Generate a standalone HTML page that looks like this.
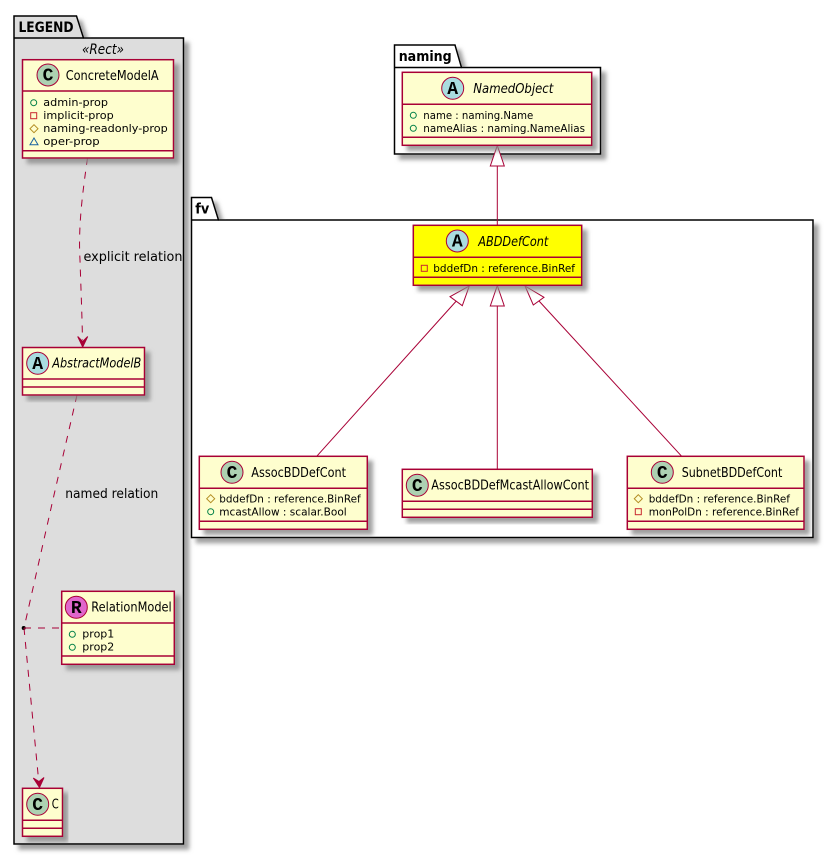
<!DOCTYPE html>
<html><head><meta charset="utf-8"><title>Diagram</title>
<style>
html,body{margin:0;padding:0;background:#fff;width:834px;height:855px;overflow:hidden}
svg{display:block}
text{font-family:"DejaVu Sans","Liberation Sans",sans-serif;fill:#000}
.t{font-size:13.5px}
.i{font-size:13.5px;font-style:italic}
.a{font-size:11px}
.p{font-size:14.5px;font-weight:bold}
.l{font-size:13px}
.g{font-family:"Liberation Mono",monospace;font-size:18px;font-weight:bold;text-anchor:middle}
.c{fill:#FEFECE;stroke:#A80036;stroke-width:1.5}
.y{fill:#FFFF00;stroke:#A80036;stroke-width:1.5}
.d{stroke:#A80036;stroke-width:1.5;fill:none}
.n{stroke:#A80036;stroke-width:1;fill:none}
.k{stroke:#A80036;stroke-width:1;fill:none;stroke-dasharray:7,7}
.o{stroke:#000;stroke-width:1.5}
.pub{fill:none;stroke:#038048;stroke-width:1}
.pri{fill:none;stroke:#C82930;stroke-width:1}
.pro{fill:none;stroke:#B38D22;stroke-width:1}
.pkg{fill:none;stroke:#1963A0;stroke-width:1}
.ci{stroke:#A80036;stroke-width:1}
</style></head><body>
<svg width="834" height="855" viewBox="0 0 834 855" xmlns="http://www.w3.org/2000/svg">
<defs><filter id="s" x="-10%" y="-10%" width="125%" height="125%"><feGaussianBlur in="SourceAlpha" stdDeviation="2"/><feOffset dx="5" dy="5"/><feColorMatrix type="matrix" values="0 0 0 0 .25 0 0 0 0 .25 0 0 0 0 .25 0 0 0 .8 0"/><feMerge><feMergeNode/><feMergeNode in="SourceGraphic"/></feMerge></filter></defs>

<!-- LEGEND package -->
<path class="o" filter="url(#s)" fill="#DDDDDD" d="M14 16H76.5L83.5 38H183.5V844H14Z"/>
<line class="o" x1="14" y1="38" x2="83.5" y2="38"/>
<text class="p" x="18.5" y="32" textLength="55" lengthAdjust="spacingAndGlyphs">LEGEND</text>
<text x="82" y="54" font-size="14" font-style="italic" textLength="42" lengthAdjust="spacingAndGlyphs">«Rect»</text>

<!-- naming package -->
<path class="o" filter="url(#s)" fill="#fff" d="M394.5 45H455L461.5 67.5H600.5V154H394.5Z"/>
<line class="o" x1="394.5" y1="67.5" x2="461.5" y2="67.5"/>
<text class="p" x="398.7" y="61" textLength="53" lengthAdjust="spacingAndGlyphs">naming</text>

<!-- fv package -->
<path class="o" filter="url(#s)" fill="#fff" d="M191.5 197.5H211.5L218.5 220H813V537.5H191.5Z"/>
<line class="o" x1="191.5" y1="220" x2="218.5" y2="220"/>
<text class="p" x="195.3" y="213.3" textLength="14" lengthAdjust="spacingAndGlyphs">fv</text>

<!-- connectors -->
<path class="k" d="M87.5 158C83 190 78 225 80 260C81 290 82 315 82.5 340"/>
<path d="M82.7 347L77.7 336.5L82.7 341.5L87.7 336.5Z" fill="#A80036" stroke="#A80036"/>
<text class="l" x="83.5" y="261" textLength="99" lengthAdjust="spacingAndGlyphs">explicit relation</text>

<path class="k" d="M77 395L54 495L24 628"/>
<text class="l" x="65.3" y="498" textLength="93" lengthAdjust="spacingAndGlyphs">named relation</text>
<circle cx="23.7" cy="628" r="2" fill="#000"/>
<path class="k" d="M24 628H61.5"/>
<path class="k" d="M24 628L38.6 780"/>
<path d="M39.5 787.5L33.3 778L39 781.5L44 777.5Z" fill="#A80036" stroke="#A80036"/>

<path class="n" d="M497.3 166V225.3"/>
<path class="n" style="fill:#fff" d="M497.3 145.5L504.3 166H490.3Z"/>
<path class="n" d="M497.3 306V469.3"/>
<path class="n" style="fill:#fff" d="M497.3 285.5L504.3 306H490.3Z"/>
<path class="n" d="M456.3 301L316.7 456.3"/>
<path class="n" style="fill:#fff" d="M469.3 286L462.3 305.7L450 296.7Z"/>
<path class="n" d="M539 301L681.7 456.3"/>
<path class="n" style="fill:#fff" d="M525 286L544 297.3L533.3 305Z"/>

<!-- ConcreteModelA -->
<rect class="c" filter="url(#s)" x="22.5" y="59.7" width="151" height="98.3"/>
<path class="d" d="M22.5 91H173.5M22.5 150.7H173.5"/>
<circle class="ci" cx="48" cy="75" r="11" fill="#ADD1B2"/><text class="g" x="48" y="80.5">C</text>
<text class="t" x="65.7" y="80" textLength="93" lengthAdjust="spacingAndGlyphs">ConcreteModelA</text>
<circle class="pub" cx="33.7" cy="102.7" r="3"/>
<rect class="pri" x="30.7" y="112.7" width="6" height="6"/>
<path class="pro" d="M34 124.7L38 128.7L34 132.7L30 128.7Z"/>
<path class="pkg" d="M34 138L38 144.7H30Z"/>
<text class="a" x="43.3" y="106" textLength="64.7" lengthAdjust="spacingAndGlyphs">admin-prop</text>
<text class="a" x="43.3" y="119" textLength="70.4" lengthAdjust="spacingAndGlyphs">implicit-prop</text>
<text class="a" x="43.3" y="132" textLength="124.4" lengthAdjust="spacingAndGlyphs">naming-readonly-prop</text>
<text class="a" x="43.3" y="145" textLength="56.4" lengthAdjust="spacingAndGlyphs">oper-prop</text>

<!-- AbstractModelB -->
<rect class="c" filter="url(#s)" x="22.5" y="347.5" width="122" height="47.5"/>
<path class="d" d="M22.5 379H144.5M22.5 387H144.5"/>
<circle class="ci" cx="37.7" cy="363.3" r="11" fill="#A9DCDF"/><text class="g" x="37.7" y="368.8">A</text>
<text class="i" x="52.3" y="367.3" textLength="89" lengthAdjust="spacingAndGlyphs">AbstractModelB</text>

<!-- RelationModel -->
<rect class="c" filter="url(#s)" x="61.7" y="591.3" width="112.6" height="73"/>
<path class="d" d="M61.7 623H174.3M61.7 656H174.3"/>
<circle class="ci" cx="76.3" cy="607.3" r="11" fill="#E066CC"/><text class="g" x="76.3" y="612.8">R</text>
<text class="t" x="91.3" y="611.7" textLength="80.4" lengthAdjust="spacingAndGlyphs">RelationModel</text>
<circle class="pub" cx="72.3" cy="634.3" r="3"/><circle class="pub" cx="72.3" cy="647.3" r="3"/>
<text class="a" x="82.3" y="637.5" textLength="32" lengthAdjust="spacingAndGlyphs">prop1</text>
<text class="a" x="82.3" y="650.5" textLength="32" lengthAdjust="spacingAndGlyphs">prop2</text>

<!-- C -->
<rect class="c" filter="url(#s)" x="22.5" y="788.3" width="40" height="48"/>
<path class="d" d="M22.5 820.3H62.5M22.5 828.3H62.5"/>
<circle class="ci" cx="37.7" cy="804.3" r="11" fill="#ADD1B2"/><text class="g" x="37.7" y="809.8">C</text>
<text class="t" x="51.7" y="808.7" textLength="7" lengthAdjust="spacingAndGlyphs">C</text>

<!-- NamedObject -->
<rect class="c" filter="url(#s)" x="402.3" y="72.3" width="189.4" height="73"/>
<path class="d" d="M402.3 104.3H591.7M402.3 137.3H591.7"/>
<circle class="ci" cx="452.7" cy="88.3" r="11" fill="#A9DCDF"/><text class="g" x="452.7" y="93.8">A</text>
<text class="i" x="473.3" y="93" textLength="80" lengthAdjust="spacingAndGlyphs">NamedObject</text>
<circle class="pub" cx="413.3" cy="115.3" r="3"/><circle class="pub" cx="413.3" cy="128.3" r="3"/>
<text class="a" x="423.3" y="119" textLength="110" lengthAdjust="spacingAndGlyphs">name : naming.Name</text>
<text class="a" x="423.3" y="132" textLength="161.7" lengthAdjust="spacingAndGlyphs">nameAlias : naming.NameAlias</text>

<!-- ABDDefCont -->
<rect class="y" filter="url(#s)" x="413.3" y="225.3" width="168.4" height="60"/>
<path class="d" d="M413.3 257.3H581.7M413.3 277.3H581.7"/>
<circle class="ci" cx="457.3" cy="241" r="11" fill="#A9DCDF"/><text class="g" x="457.3" y="246.5">A</text>
<text class="i" x="478.3" y="246" textLength="70" lengthAdjust="spacingAndGlyphs">ABDDefCont</text>
<rect class="pri" x="421.3" y="265.3" width="6" height="6"/>
<text class="a" x="433.3" y="272" textLength="141.7" lengthAdjust="spacingAndGlyphs">bddefDn : reference.BinRef</text>

<!-- AssocBDDefCont -->
<rect class="c" filter="url(#s)" x="199.3" y="456.3" width="168" height="73"/>
<path class="d" d="M199.3 488.3H367.3M199.3 521.3H367.3"/>
<circle class="ci" cx="232" cy="472.3" r="11" fill="#ADD1B2"/><text class="g" x="232" y="477.8">C</text>
<text class="t" x="251.3" y="477" textLength="94.7" lengthAdjust="spacingAndGlyphs">AssocBDDefCont</text>
<path class="pro" d="M210.7 494.7L214.7 498.7L210.7 502.7L206.7 498.7Z"/>
<circle class="pub" cx="210.7" cy="511.7" r="3"/>
<text class="a" x="219.3" y="502.7" textLength="141.4" lengthAdjust="spacingAndGlyphs">bddefDn : reference.BinRef</text>
<text class="a" x="219.3" y="515.7" textLength="127.4" lengthAdjust="spacingAndGlyphs">mcastAllow : scalar.Bool</text>

<!-- AssocBDDefMcastAllowCont -->
<rect class="c" filter="url(#s)" x="402.3" y="469.3" width="190" height="48"/>
<path class="d" d="M402.3 501.3H592.3M402.3 509.3H592.3"/>
<circle class="ci" cx="417.3" cy="485.3" r="11" fill="#ADD1B2"/><text class="g" x="417.3" y="490.8">C</text>
<text class="t" x="431.3" y="489.7" textLength="157.7" lengthAdjust="spacingAndGlyphs">AssocBDDefMcastAllowCont</text>

<!-- SubnetBDDefCont -->
<rect class="c" filter="url(#s)" x="627.3" y="456.3" width="176.7" height="73"/>
<path class="d" d="M627.3 488.3H804M627.3 521.3H804"/>
<circle class="ci" cx="662.3" cy="472.3" r="11" fill="#ADD1B2"/><text class="g" x="662.3" y="477.8">C</text>
<text class="t" x="681.7" y="477" textLength="100.6" lengthAdjust="spacingAndGlyphs">SubnetBDDefCont</text>
<path class="pro" d="M638.3 494.7L642.3 498.7L638.3 502.7L634.3 498.7Z"/>
<rect class="pri" x="635.3" y="508.7" width="6" height="6"/>
<text class="a" x="648.7" y="502.7" textLength="141.3" lengthAdjust="spacingAndGlyphs">bddefDn : reference.BinRef</text>
<text class="a" x="648.7" y="515.7" textLength="150.3" lengthAdjust="spacingAndGlyphs">monPolDn : reference.BinRef</text>
</svg>
</body></html>
